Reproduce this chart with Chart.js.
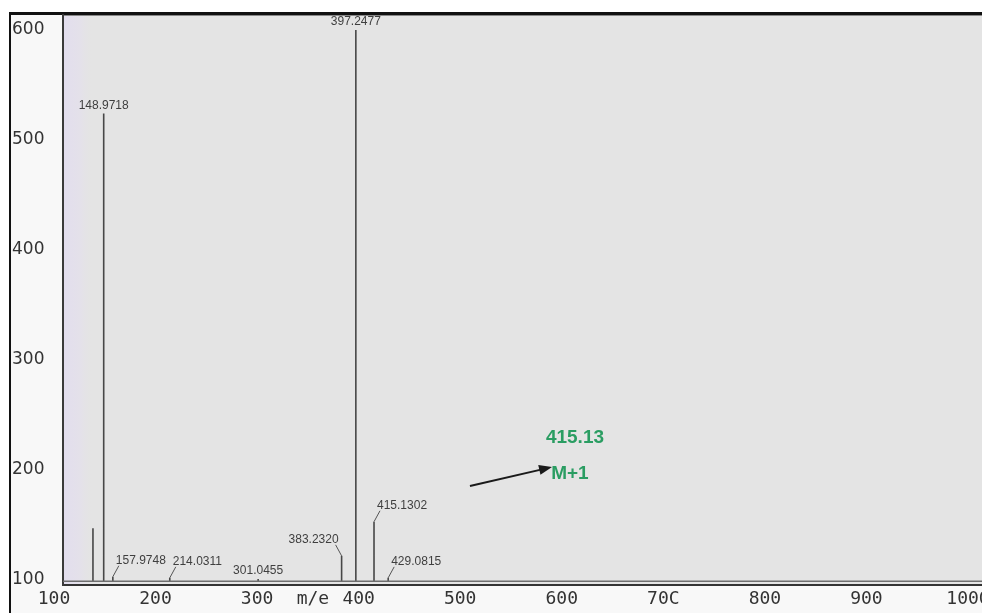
<!DOCTYPE html>
<html>
<head>
<meta charset="utf-8">
<title>Mass spectrum</title>
<script src="https://cdn.jsdelivr.net/npm/chart.js@4.4.1/dist/chart.umd.min.js"></script>
<style>
    html, body { margin: 0; padding: 0; background: #ffffff; overflow: hidden; }
    #wrap { position: relative; width: 982px; height: 613px; overflow: hidden; }
    canvas { display: block; }
</style>
</head>
<body>
<div id="wrap"><canvas id="spectrumChart" width="1000" height="613"></canvas></div>
<script>
// Peaks: m/e position and top of each line
const peakMz = [138.4, 148.9718, 157.9748, 214.0311, 301.0455, 383.2320, 397.2477, 415.1302, 429.0815];
const peakHeight = [147, 524, 103, 102, 101, 122, 600, 153, 102];
const peakLabels = ['', '148.9718', '157.9748', '214.0311', '301.0455', '383.2320', '397.2477', '415.1302', '429.0815'];

// Flat baseline under the peaks
const baselineMz = [109, 1032];
const baselineLevel = 99;

// Axis ticks (the "m/e" unit sits in the tick row between 300 and 400)
const xTickValues = [100, 200, 300, 355, 400, 500, 600, 700, 800, 900, 1000];
const xTickLabels = ['100', '200', '300', 'm/e', '400', '500', '600', '70C', '800', '900', '1000'];
const yTickValues = [100, 200, 300, 400, 500, 600];

// Green annotation
const noteLines = ['415.13', 'M+1'];

// How each peak label hangs off its line: straight above, or on a small leader to the right / left
const labelSide = ['none', 'top', 'right', 'right', 'top', 'left', 'top', 'right', 'right'];

// Build the line segments: baseline -> top, then a gap
const peakPoints = [];
peakMz.forEach((mz, i) => {
    peakPoints.push({ x: mz, y: baselineLevel });
    peakPoints.push({ x: mz, y: peakHeight[i] });
    peakPoints.push({ x: mz, y: null });
});
const baselinePoints = baselineMz.map(mz => ({ x: mz, y: baselineLevel }));

// Background, frame and the lavender edge of the scan
const framePlugin = {
    id: 'frame',
    beforeDraw(chart) {
        const { ctx, chartArea: a, width, height } = chart;
        ctx.save();
        ctx.fillStyle = '#ffffff';
        ctx.fillRect(0, 0, width, height);
        ctx.fillStyle = '#f8f8f8';
        ctx.fillRect(10, 12, width - 10, height - 12);

        ctx.fillStyle = '#e4e4e4';
        ctx.fillRect(a.left, a.top, a.right - a.left, a.bottom - a.top);
        const g = ctx.createLinearGradient(a.left, 0, a.left + 30, 0);
        g.addColorStop(0, 'rgba(226, 221, 238, 1)');
        g.addColorStop(0.6, 'rgba(228, 224, 236, 0.7)');
        g.addColorStop(1, 'rgba(228, 228, 228, 0)');
        ctx.fillStyle = g;
        ctx.fillRect(a.left, a.top, 30, a.bottom - a.top);

        // outer frame
        ctx.fillStyle = '#111111';
        ctx.fillRect(9, 12, 2, height - 12);
        ctx.fillRect(9, 12, width - 9, 3);
        ctx.fillStyle = '#888888';
        ctx.fillRect(a.left, 15, width - a.left, 1);
        ctx.restore();
    }
};

// Peak labels and the M+1 note
const labelPlugin = {
    id: 'peakLabels',
    afterDatasetsDraw(chart) {
        const { ctx } = chart;
        const xs = chart.scales.x;
        const ys = chart.scales.y;
        ctx.save();
        ctx.font = '12px "Liberation Sans", Arial, sans-serif';
        ctx.fillStyle = '#3f3f3f';
        ctx.strokeStyle = '#555555';
        ctx.lineWidth = 1;
        ctx.textBaseline = 'bottom';
        peakMz.forEach((mz, i) => {
            const side = labelSide[i];
            if (side === 'none') return;
            const px = xs.getPixelForValue(mz);
            const py = ys.getPixelForValue(peakHeight[i]);
            if (side === 'top') {
                ctx.textAlign = 'center';
                ctx.fillText(peakLabels[i], px, py - 2);
            } else {
                const dir = side === 'right' ? 1 : -1;
                ctx.beginPath();
                ctx.moveTo(px, py);
                ctx.lineTo(px + dir * 6, py - 11);
                ctx.stroke();
                ctx.textAlign = side === 'right' ? 'left' : 'right';
                ctx.fillText(peakLabels[i], px + dir * 3, py - 10);
            }
        });

        // arrow pointing at the M+1 note
        const x0 = xs.getPixelForValue(509.6), y0 = ys.getPixelForValue(185.5);
        const x1 = xs.getPixelForValue(590.4), y1 = ys.getPixelForValue(202.7);
        const ang = Math.atan2(y1 - y0, x1 - x0);
        ctx.strokeStyle = '#1a1a1a';
        ctx.fillStyle = '#1a1a1a';
        ctx.lineWidth = 2;
        ctx.beginPath();
        ctx.moveTo(x0, y0);
        ctx.lineTo(x1 - 8 * Math.cos(ang), y1 - 8 * Math.sin(ang));
        ctx.stroke();
        ctx.beginPath();
        ctx.moveTo(x1, y1);
        ctx.lineTo(x1 - 13 * Math.cos(ang) + 5 * Math.sin(ang), y1 - 13 * Math.sin(ang) - 5 * Math.cos(ang));
        ctx.lineTo(x1 - 13 * Math.cos(ang) - 5 * Math.sin(ang), y1 - 13 * Math.sin(ang) + 5 * Math.cos(ang));
        ctx.closePath();
        ctx.fill();

        ctx.fillStyle = '#2a9d62';
        ctx.font = 'bold 19px "Liberation Sans", Arial, sans-serif';
        ctx.textAlign = 'center';
        ctx.textBaseline = 'middle';
        ctx.fillText(noteLines[0], xs.getPixelForValue(613), ys.getPixelForValue(229));
        ctx.fillText(noteLines[1], xs.getPixelForValue(608), ys.getPixelForValue(197));
        ctx.restore();
    }
};

const ctx = document.getElementById('spectrumChart').getContext('2d');
new Chart(ctx, {
    type: 'scatter',
    data: {
        datasets: [
            {
                label: 'baseline',
                data: baselinePoints,
                showLine: true,
                borderColor: '#6e6e6e',
                borderWidth: 1.5,
                pointRadius: 0
            },
            {
                label: 'peaks',
                data: peakPoints,
                showLine: true,
                spanGaps: false,
                borderColor: '#474747',
                borderWidth: 1.6,
                pointRadius: 0
            }
        ]
    },
    options: {
        responsive: false,
        animation: false,
        layout: { padding: { left: 12, top: 15, right: 0, bottom: 0 } },
        plugins: {
            legend: { display: false },
            tooltip: { enabled: false }
        },
        scales: {
            x: {
                type: 'linear',
                min: 108.9,
                max: 1031.5,
                grid: { display: false, drawTicks: false },
                border: { display: true, color: '#333333', width: 2 },
                afterBuildTicks: scale => {
                    scale.ticks = xTickValues.map(v => ({ value: v }));
                },
                afterFit: scale => { scale.height = 28; },
                ticks: {
                    autoSkip: false,
                    maxRotation: 0,
                    padding: 4,
                    color: '#333333',
                    font: { family: '"DejaVu Sans Mono", monospace', size: 18 },
                    callback: (value, index) => xTickLabels[index]
                }
            },
            y: {
                type: 'linear',
                min: 95.5,
                max: 613.6,
                grid: { display: false, drawTicks: false },
                border: { display: true, color: '#3a3a3a', width: 2 },
                afterBuildTicks: scale => {
                    scale.ticks = yTickValues.map(v => ({ value: v }));
                },
                afterFit: scale => { scale.width = 51; },
                ticks: {
                    crossAlign: 'far',
                    padding: 0,
                    color: '#333333',
                    font: { family: '"DejaVu Sans", sans-serif', size: 17 }
                }
            }
        }
    },
    plugins: [framePlugin, labelPlugin]
});
</script>
</body>
</html>
